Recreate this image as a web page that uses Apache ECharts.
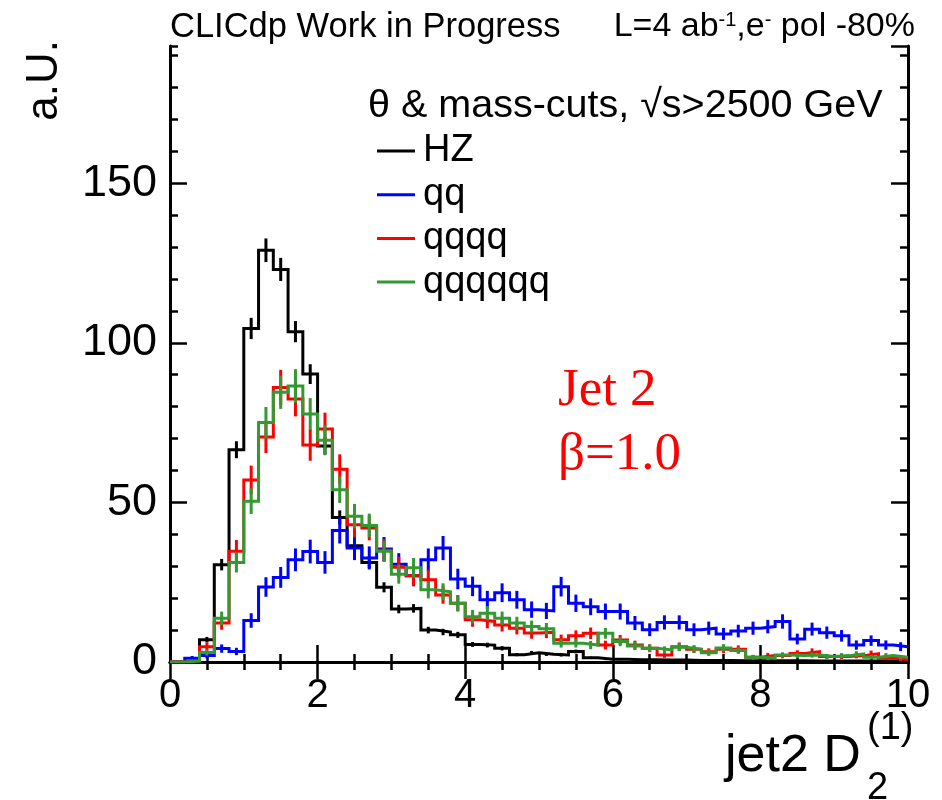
<!DOCTYPE html>
<html><head><meta charset="utf-8">
<script src="https://cdn.jsdelivr.net/npm/echarts@6/dist/echarts.min.js"></script>
<style>html,body{margin:0;padding:0;background:#fff}#c{width:942px;height:800px}</style>
</head><body><div id="c"></div>
<script>
// ---- data (bin width 0.2 over 0..10) ----
const binWidth = 0.2;
const binLeft = Array.from({length: 50}, (_, i) => +(i * binWidth).toFixed(1));
const seriesNames = ['HZ', 'qq', 'qqqq', 'qqqqqq'];
const hz = [0, 0.5, 7, 30.5, 66.5, 104.5, 129, 123, 103.5, 90.2,
  67.7, 45.3, 36.4, 31.2, 23.4, 16.6, 16.8, 10, 9.4, 8.5,
  5.5, 5.3, 4.3, 2.3, 2.9, 2.4, 2.2, 3.3, 1.3, 0.9,
  0.9, 0.7, 0.7, 0.6, 0.6, 0.5, 0.5, 0.5, 0.4, 0.4,
  0.4, 0.4, 0.4, 0.3, 0.3, 0.3, 0.3, 0.3, 0.3, 0.3];
const qq = [0, 1.2, 2, 4.2, 3.3, 13, 23.5, 26.5, 32, 34.6,
  31.2, 41.2, 35.7, 32.6, 35.4, 30.6, 27, 32, 35.7, 26,
  23.7, 19.5, 21.7, 19.5, 16.4, 16, 23.6, 18.4, 17.3, 15.8,
  15.8, 12.2, 10.1, 12.4, 12.4, 10.1, 10.6, 8.8, 9.7, 10.6,
  11.1, 12.7, 7.2, 10.3, 9.2, 8.2, 5.3, 6.7, 5.3, 4.8];
const qqqq = [0, 0.5, 4.8, 12.2, 34.7, 57, 70.5, 86, 82.4, 68,
  73, 60.4, 43, 42, 35, 29.7, 27, 25.8, 21, 18.4,
  13.2, 12.7, 11.6, 10.6, 9.1, 9.3, 7, 8.2, 9, 5.3,
  6.9, 5.3, 4.3, 2.2, 4.8, 4, 3.2, 4, 4, 1.5,
  2, 2, 2.7, 3.2, 1.7, 1.7, 2, 2.6, 1.2, 0.8];
const qqqqqq = [0, 0.3, 3, 13.7, 31.2, 50.4, 75, 84.5, 86.5, 77.7,
  69.5, 54, 45.7, 42.8, 34.7, 27.5, 29.5, 22.6, 22, 18.4,
  14.2, 15.3, 13.7, 12.2, 11.1, 10.4, 5.9, 5.9, 5.3, 9,
  6.4, 5, 4.3, 3.8, 4.6, 4, 2.9, 4.4, 3.6, 1.5,
  1.2, 2.2, 2, 2.2, 1.7, 2, 2.5, 1.5, 2, 1.5];
// per-event weights used for the statistical error bars
const weights = [0.106, 0.4, 0.36, 0.32];
const colors = ['#000000', '#0000ff', '#ff0000', '#339933'];
const xTickLabels = [0, 2, 4, 6, 8, 10];
const yTickLabels = [0, 50, 100, 150];
const xMax = 10, yMax = 193;

const FONT = '"Liberation Sans", Arial, Helvetica, sans-serif';
const SERIF = '"Liberation Serif", "Times New Roman", serif';

function stepData(vals) {
  const d = vals.map((v, i) => [binLeft[i], v]);
  d.push([xMax, vals[vals.length - 1]]);
  return d;
}
function errData(vals, w) {
  return vals.map((v, i) => [binLeft[i] + binWidth / 2, v, Math.sqrt(w * v)]);
}

const allVals = [hz, qq, qqqq, qqqqqq];
const series = [];
allVals.forEach((vals, k) => {
  series.push({
    name: seriesNames[k], type: 'line', step: 'end', data: stepData(vals),
    showSymbol: false, symbol: 'none', silent: true, clip: true,
    lineStyle: {color: colors[k], width: 3, join: 'miter', cap: 'butt'},
    itemStyle: {color: colors[k]}, z: 2 + k
  });
  const col = colors[k];
  series.push({
    type: 'custom', silent: true, clip: true, z: 2 + k,
    data: errData(vals, weights[k]),
    encode: {x: 0, y: 1},
    renderItem: function (params, api) {
      const x = api.value(0), y = api.value(1), e = api.value(2);
      if (!(y > 0)) return null;
      const p1 = api.coord([x, Math.max(0, y - e)]);
      const p2 = api.coord([x, y + e]);
      return {type: 'line', shape: {x1: p1[0], y1: p1[1], x2: p2[0], y2: p2[1]},
        style: {stroke: col, lineWidth: 3}};
    }
  });
});

const axisLineStyle = {show: true, lineStyle: {color: '#000', width: 3}};
function xAx(pos, showLabel) {
  return {
    type: 'value', min: 0, max: xMax, interval: 2, position: pos,
    axisLine: axisLineStyle,
    axisTick: {show: true, inside: true, length: 17, lineStyle: {color: '#000', width: 2.5}},
    minorTick: {show: true, splitNumber: 4, length: 8, lineStyle: {color: '#000', width: 2.5}},
    splitLine: {show: false}, minorSplitLine: {show: false},
    axisLabel: {show: showLabel, fontSize: 40, fontFamily: FONT, color: '#000', margin: 14,
      formatter: v => (xTickLabels.indexOf(v) >= 0 ? String(v) : '')}
  };
}
function yAx(pos, major, showLabel) {
  return {
    type: 'value', min: 0, max: yMax, interval: major ? 50 : 10, position: pos,
    axisLine: major ? axisLineStyle : {show: false},
    axisTick: {show: true, inside: true, length: major ? 17 : 8, lineStyle: {color: '#000', width: 2.5}},
    splitLine: {show: false},
    axisLabel: {show: showLabel, fontSize: 45, fontFamily: FONT, color: '#000', margin: 13,
      showMaxLabel: false,
      formatter: v => (yTickLabels.indexOf(v) >= 0 ? String(v) : '')}
  };
}

const chart = echarts.init(document.getElementById('c'), null, {renderer: 'canvas'});
chart.setOption({
  animation: false,
  backgroundColor: '#fff',
  grid: {left: 170, right: 34, top: 46, bottom: 138, containLabel: false},
  xAxis: [xAx('bottom', true), xAx('top', false)],
  yAxis: [yAx('left', true, true), yAx('left', false, false), yAx('right', true, false), yAx('right', false, false)],
  legend: {
    data: seriesNames, orient: 'vertical', left: 377, top: 132, padding: 0,
    icon: 'rect', itemWidth: 38, itemHeight: 3, itemGap: 5.7,
    selectedMode: false,
    textStyle: {fontSize: 38, fontFamily: FONT, color: '#000', lineHeight: 36, padding: [0, 0, 0, 3]}
  },
  series: series,
  graphic: [
    {type: 'text', x: 170, y: 27, style: {text: 'CLICdp Work in Progress', font: '34.5px ' + FONT, fill: '#000', align: 'left', verticalAlign: 'middle'}},
    {type: 'text', x: 915, y: 27, style: {text: 'L=4 ab{sup|-1},e{sup|-} pol -80%', font: '34px ' + FONT, fill: '#000', align: 'right', verticalAlign: 'middle',
      rich: {sup: {fontSize: 20, fontFamily: FONT, verticalAlign: 'top', lineHeight: 20}}}},
    {type: 'text', x: 368, y: 106, style: {text: 'θ & mass-cuts, √s>2500 GeV', font: '39.5px ' + FONT, fill: '#000', align: 'left', verticalAlign: 'middle'}},
    {type: 'text', x: 558, y: 391, style: {text: 'Jet 2', font: '53px ' + SERIF, fill: '#ff0000', align: 'left', verticalAlign: 'middle'}},
    {type: 'text', x: 558, y: 455, style: {text: 'β=1.0', font: '53px ' + SERIF, fill: '#ff0000', align: 'left', verticalAlign: 'middle'}},
    {type: 'text', x: 45, y: 40, rotation: Math.PI / 2, style: {text: 'a.U.', font: '44px ' + FONT, fill: '#000', align: 'right', verticalAlign: 'middle'}},
    {type: 'text', x: 725, y: 757, style: {text: 'jet2 D', font: '52px ' + FONT, fill: '#000', align: 'left', verticalAlign: 'middle'}},
    {type: 'text', x: 867, y: 729, style: {text: '(1)', font: '38px ' + FONT, fill: '#000', align: 'left', verticalAlign: 'middle'}},
    {type: 'text', x: 867, y: 789, style: {text: '2', font: '38px ' + FONT, fill: '#000', align: 'left', verticalAlign: 'middle'}}
  ]
});
</script>
</body></html>
